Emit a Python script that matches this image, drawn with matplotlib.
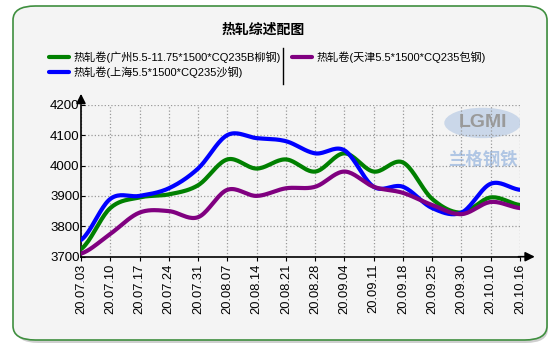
import numpy as np
import matplotlib
matplotlib.use('Agg')
import matplotlib.pyplot as plt
from matplotlib.patches import FancyBboxPatch, Ellipse
from matplotlib.lines import Line2D

dates = ['20.07.03', '20.07.10', '20.07.17', '20.07.24', '20.07.31', '20.08.07',
         '20.08.14', '20.08.21', '20.08.28', '20.09.04', '20.09.11', '20.09.18',
         '20.09.25', '20.09.30', '20.10.10', '20.10.16']
guangzhou = [3725, 3860, 3895, 3905, 3935, 4020, 3990, 4020, 3980, 4040, 3980, 4010,
             3890, 3845, 3895, 3870]
shanghai = [3755, 3890, 3900, 3925, 3990, 4100, 4090, 4080, 4040, 4050, 3930, 3930,
            3860, 3845, 3940, 3920]
tianjin = [3710, 3775, 3845, 3850, 3830, 3920, 3900, 3925, 3930, 3980, 3930, 3910,
           3870, 3840, 3880, 3860]
labels = ['热轧卷(广州5.5-11.75*1500*CQ235B柳钢)',
          '热轧卷(上海5.5*1500*CQ235沙钢)',
          '热轧卷(天津5.5*1500*CQ235包钢)']
colors = ['#008000', '#0000ff', '#800080']
yticks = [3700, 3800, 3900, 4000, 4100, 4200]

plt.rcParams['font.family'] = ['Liberation Sans', 'Noto Sans CJK SC', 'DejaVu Sans']


def spline(y, n=20):
    # catmull-rom, only for drawing the smooth curve
    y = np.asarray(y, dtype=float)
    p = np.concatenate([[y[0]], y, [y[-1]]])
    xs, ys = [], []
    t = np.linspace(0, 1, n, endpoint=False)
    for i in range(len(y) - 1):
        p0, p1, p2, p3 = p[i], p[i + 1], p[i + 2], p[i + 3]
        seg = 0.5 * ((2 * p1) + (-p0 + p2) * t + (2 * p0 - 5 * p1 + 4 * p2 - p3) * t ** 2
                     + (-p0 + 3 * p1 - 3 * p2 + p3) * t ** 3)
        xs.append(i + t)
        ys.append(seg)
    xs.append([len(y) - 1])
    ys.append([y[-1]])
    return np.concatenate(xs), np.concatenate(ys)


fig = plt.figure(figsize=(5.6, 3.51), dpi=100)
fig.patch.set_facecolor('white')

# panel with shadow
shadow = FancyBboxPatch((16 / 560, 1 - 343 / 351), 532 / 560, 334 / 351,
                        boxstyle='round,pad=0,rounding_size=0.04', transform=fig.transFigure,
                        facecolor='#b0b0b0', edgecolor='none', alpha=0.6, zorder=-3)
panel = FancyBboxPatch((13 / 560, 1 - 340 / 351), 534 / 560, 334 / 351,
                       boxstyle='round,pad=0,rounding_size=0.04', transform=fig.transFigure,
                       facecolor='#f4f4f4', edgecolor='#3f8f3f', linewidth=1.2, zorder=-2)
fig.patches.extend([shadow, panel])

fig.text(263 / 560, 1 - 30 / 351, '热轧综述配图', ha='center', va='center',
         fontsize=10, fontweight='bold')

ax = fig.add_axes([81 / 560, 1 - 256.7 / 351, 439 / 560, 152 / 351])
ax.set_facecolor('none')
x = np.arange(len(dates))
for vals, c, lab in zip([guangzhou, shanghai, tianjin], colors, labels):
    sx, sy = spline(vals)
    ax.plot(sx, sy, color=c, lw=3, label=lab, solid_capstyle='round', zorder=3)

ax.set_xlim(0, len(dates) - 1)
ax.set_ylim(3700, 4200)
ax.set_xticks(x)
ax.set_xticklabels(dates, rotation=90, fontsize=9.3)
ax.set_yticks(yticks)
ax.set_yticklabels([str(v) for v in yticks], fontsize=9.5)
ax.grid(True, color='#999999', linestyle=':', linewidth=0.9)
for s in ['top', 'right']:
    ax.spines[s].set_visible(False)
ax.spines['left'].set_linewidth(1.2)
ax.spines['bottom'].set_linewidth(1.2)
ax.tick_params(axis='y', direction='in', length=3, pad=1)
ax.tick_params(axis='x', direction='out', length=3, pad=2)

# axis arrows
ax.annotate('', xy=(0, 1.09), xytext=(0, 0.99), xycoords='axes fraction',
            arrowprops=dict(arrowstyle='-|>', color='black', lw=1.2, mutation_scale=14),
            annotation_clip=False)
ax.annotate('', xy=(1.04, 0), xytext=(0.99, 0), xycoords='axes fraction',
            arrowprops=dict(arrowstyle='-|>', color='black', lw=1.2, mutation_scale=14),
            annotation_clip=False)

# watermark
ax.add_patch(Ellipse((0.915, 0.88), 0.175, 0.2, transform=ax.transAxes,
                     facecolor='#a8c0e0', edgecolor='none', alpha=0.55, zorder=1))
ax.text(0.915, 0.88, 'LGMI', transform=ax.transAxes, ha='center', va='center',
        fontsize=14, color='#9a9a9a', fontweight='bold', zorder=1)
ax.text(0.915, 0.64, '兰格钢铁', transform=ax.transAxes, ha='center', va='center',
        fontsize=12.5, color='#b0c6e4', fontweight='bold', zorder=1)

leg = fig.legend(loc='upper left', bbox_to_anchor=(49 / 560, 1 - 51 / 351), ncol=2,
                 frameon=False, fontsize=8, handlelength=1.8, handletextpad=0.4,
                 labelspacing=0.3, columnspacing=1.0, borderpad=0, borderaxespad=0)
for h in leg.get_lines():
    h.set_linewidth(3)
fig.add_artist(Line2D([283 / 560, 283 / 560], [1 - 48 / 351, 1 - 84 / 351],
                      transform=fig.transFigure, color='black', lw=1))

fig.savefig('out.png', dpi=100)
